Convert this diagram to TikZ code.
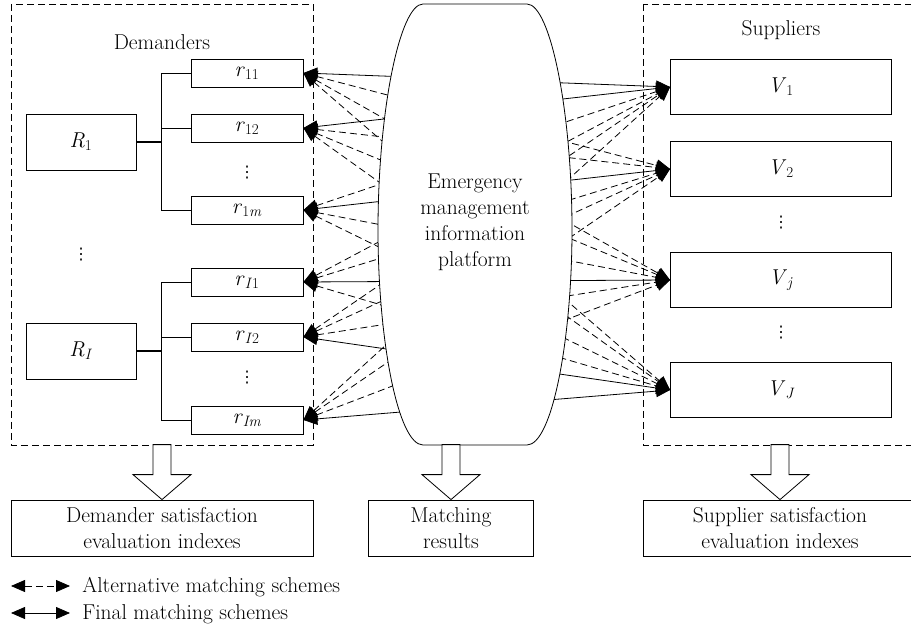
\documentclass[tikz,border=0pt]{standalone}
\usepackage{fontspec}
\newfontfamily\dv{DejaVu Sans}
\usetikzlibrary{arrows.meta}
\newcommand{\ix}[2]{\textit{#1}\textsubscript{#2}}
\newcommand{\vd}{{\dv\fontsize{16}{16}\selectfont ⋮}}
\begin{document}
\begin{tikzpicture}[x=1pt, y=-1pt, line width=0.8pt, font=\fontsize{21.5}{26}\selectfont, >={Triangle[length=14pt,width=12pt]},
		zone/.style={draw, dash pattern=on 7pt off 4pt},
		rbox/.style={draw, inner sep=0pt, minimum width=110pt, minimum height=56pt},
		sbox/.style={draw, inner sep=0pt, minimum width=112pt, minimum height=28pt},
		vbox/.style={draw, inner sep=0pt, minimum width=221pt, minimum height=55pt},
		res/.style={draw, inner sep=0pt, minimum height=56pt, align=center},
		alt/.style={<->, dash pattern=on 7pt off 4pt},
		fin/.style={<->}]
	\useasboundingbox (0,0) rectangle (911,644);
	\clip (0,0) rectangle (911,644);
	\draw[zone] (11,4) rectangle (313,445);
	\draw[zone] (643,4) rectangle (925,445);
	\node (dem) at (162,42) {Demanders};
	\node (sup) at (781,30) {Suppliers};
	\node[rbox] (R1) at (81,142) {\ix{R}{1}};
	\node[rbox] (RI) at (81,351) {\ix{R}{\textit{I}}};
	\node (dR) at (81,255) {\vd};
	\foreach \n/\y/\t in {r11/73/11, r12/128/12, r1m/210/1\textit{m}, rI1/282/\textit{I}1, rI2/337/\textit{I}2, rIm/420/\textit{Im}}{
		\node[sbox] (\n) at (247,\y) {\ix{r}{\t}};
	}
	\node (d1) at (247,173) {\vd};
	\node (d2) at (247,378) {\vd};
	\draw[line width=1.2pt] (R1.east) -- ++(25,0) coordinate (j1) (RI.east) -- ++(25,0) coordinate (j2);
	\foreach \n in {r11,r12,r1m} \draw (j1) |- (\n.west);
	\foreach \n in {rI1,rI2,rIm} \draw (j2) |- (\n.west);
	\foreach \n/\y/\t in {V1/87/1, V2/169/2, Vj/280/\textit{j}, VJ/390/\textit{J}}{
		\node[vbox] (\n) at (781,\y) {\ix{V}{\t}};
	}
	\node (d3) at (781,223) {\vd};
	\node (d4) at (781,333) {\vd};
	\foreach \a/\b in {r11/V2, r11/Vj, r11/VJ, r12/V2, r12/Vj, r12/VJ, r1m/V1, r1m/Vj, r1m/VJ,
		rI1/V1, rI1/V2, rI1/VJ, rI2/V1, rI2/V2, rI2/Vj, rIm/V1, rIm/V2, rIm/Vj}{
		\draw[alt] (\a.east) -- (\b.west);
	}
	\foreach \a/\b in {r11/V1, r12/V1, r1m/V2, rI1/Vj, rI2/VJ, rIm/VJ}{
		\draw[fin] (\a.east) -- (\b.west);
	}
	\draw[fill=white] (423,4) -- (527,4) .. controls (550,4) and (572,110) .. (572,230)
		.. controls (572,340) and (552,445) .. (527,445) -- (423,445)
		.. controls (398,445) and (378,340) .. (378,230) .. controls (378,110) and (400,4) .. (423,4) -- cycle;
	\node[align=center] (emp) at (475,222) {Emergency\\management\\information\\platform};
	\node[res, minimum width=302pt] (dsat) at (162,528) {Demander satisfaction\\evaluation indexes};
	\node[res, minimum width=165pt] (mres) at (451,528) {Matching\\results};
	\node[res, minimum width=274pt] (ssat) at (780,528) {Supplier satisfaction\\evaluation indexes};
	\foreach \n in {dsat, mres, ssat}{
		\draw[fill=white] (\n.north) -- ++(-29,-25) -- ++(20,0) -- ++(0,-30) -- ++(18,0) -- ++(0,30) -- ++(20,0) -- cycle;
	}
	\path (11,586) coordinate (l1) (70,586) coordinate (l2) (11,613) coordinate (l3) (70,613) coordinate (l4);
	\node[anchor=west, inner sep=0pt] (lalt) at (82,587) {Alternative matching schemes};
	\node[anchor=west, inner sep=0pt] (lfin) at (82,614) {Final matching schemes};
	\draw[alt] (l1) -- (l2);
	\draw[fin] (l3) -- (l4);
\end{tikzpicture}
\end{document}
